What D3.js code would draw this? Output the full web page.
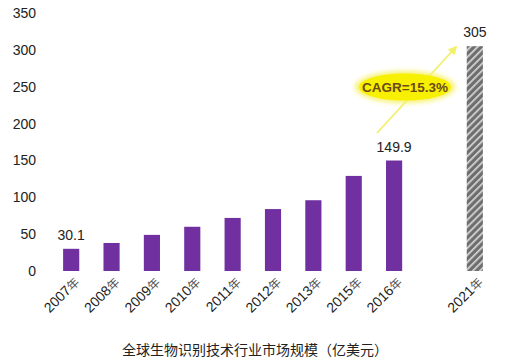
<!DOCTYPE html>
<html>
<head>
<meta charset="utf-8">
<script src="https://cdn.jsdelivr.net/npm/d3@7"></script>
<style>
  body { margin: 0; background: #fff; }
  text { font-family: "Liberation Sans", Arial, sans-serif; }
  .cn { font-family: "Noto Sans CJK SC", sans-serif; }
</style>
</head>
<body>
<div id="chart"></div>
<script>
const categories = ['2007年', '2008年', '2009年', '2010年', '2011年', '2012年', '2013年', '2015年', '2016年', '', '2021年'];
const values = [30.1, 38, 49, 60, 72, 84, 96, 129, 149.9, null, 305];
const forecast = [false, false, false, false, false, false, false, false, false, false, true];
const valueLabels = ['30.1', '', '', '', '', '', '', '', '149.9', '', '305'];
const yTicks = [0, 50, 100, 150, 200, 250, 300, 350];
const title = '全球生物识别技术行业市场规模（亿美元）';
const cagrText = 'CAGR=15.3%';

const width = 531, height = 362;
const svg = d3.select('#chart').append('svg')
    .attr('width', width)
    .attr('height', height);

const defs = svg.append('defs');
const hatch = defs.append('pattern')
    .attr('id', 'hatch')
    .attr('patternUnits', 'userSpaceOnUse')
    .attr('width', 5)
    .attr('height', 5)
    .attr('patternTransform', 'rotate(45)');
hatch.append('rect').attr('width', 5).attr('height', 5).attr('fill', '#6e6e6e');
hatch.append('rect').attr('width', 1.7).attr('height', 5).attr('fill', '#d6d6d6');

const glow = defs.append('filter').attr('id', 'glow')
    .attr('x', '-30%').attr('y', '-60%').attr('width', '160%').attr('height', '220%');
glow.append('feGaussianBlur').attr('stdDeviation', 2.5);

const marker = defs.append('marker')
    .attr('id', 'arrow')
    .attr('viewBox', '0 0 10 10')
    .attr('refX', 8).attr('refY', 5)
    .attr('markerWidth', 5).attr('markerHeight', 5)
    .attr('orient', 'auto');
marker.append('path').attr('d', 'M0,0L10,5L0,10z').attr('fill', '#f2ef6a');

const x = d3.scaleBand()
    .domain(categories.map((d, i) => i))
    .range([51, 495])
    .paddingInner(0.6)
    .paddingOuter(0.3);

const y = d3.scaleLinear()
    .domain([0, 350])
    .range([271, 13]);

// y axis labels, no line
const yAxis = d3.axisLeft(y).tickValues(yTicks).tickSize(0).tickPadding(0);
const yAxisG = svg.append('g')
    .attr('transform', 'translate(36,0)')
    .call(yAxis);
yAxisG.select('.domain').remove();
yAxisG.selectAll('text')
    .attr('font-size', 14)
    .attr('fill', '#222')
    .attr('font-family', '"Liberation Sans", Arial, sans-serif');

// bars
svg.selectAll('.bar')
    .data(values.map((v, i) => ({v, i})).filter(d => d.v !== null))
    .join('rect')
    .attr('class', 'bar')
    .attr('x', d => x(d.i))
    .attr('y', d => y(d.v))
    .attr('width', x.bandwidth())
    .attr('height', d => y(0) - y(d.v))
    .attr('fill', d => forecast[d.i] ? 'url(#hatch)' : '#7030a0');

// value labels
svg.selectAll('.val')
    .data(valueLabels.map((t, i) => ({t, i})).filter(d => d.t))
    .join('text')
    .attr('class', 'val')
    .attr('x', d => x(d.i) + x.bandwidth() / 2)
    .attr('y', d => y(values[d.i]) - 9)
    .attr('text-anchor', 'middle')
    .attr('font-size', 14)
    .attr('fill', '#222')
    .text(d => d.t);

// x labels
svg.selectAll('.xl')
    .data(categories.map((t, i) => ({t, i})).filter(d => d.t))
    .join('text')
    .attr('class', 'xl')
    .attr('transform', d => `translate(${x(d.i) + x.bandwidth() / 2 + 9},${283}) rotate(-45)`)
    .attr('text-anchor', 'end')
    .attr('font-size', 14)
    .attr('fill', '#222')
    .selectAll('tspan')
    .data(d => [d.t.slice(0, 4), d.t.slice(4)])
    .join('tspan')
    .attr('class', (d, i) => i ? 'cn' : null)
    .attr('font-size', (d, i) => i ? 12 : 14)
    .attr('fill', (d, i) => i ? '#555' : '#222')
    .text(d => d);

// CAGR arrow
svg.append('line')
    .attr('x1', 377).attr('y1', 133)
    .attr('x2', 456).attr('y2', 47)
    .attr('stroke', '#f2ef6a')
    .attr('stroke-width', 1.8)
    .attr('marker-end', 'url(#arrow)');

const cx = 405, cy = 87;
svg.append('ellipse')
    .attr('cx', cx).attr('cy', cy)
    .attr('rx', 50).attr('ry', 16)
    .attr('fill', '#f6f26a')
    .attr('filter', 'url(#glow)');
svg.append('ellipse')
    .attr('cx', cx).attr('cy', cy)
    .attr('rx', 46).attr('ry', 13.5)
    .attr('fill', '#f7f000');
svg.append('text')
    .attr('x', cx).attr('y', cy + 5)
    .attr('text-anchor', 'middle')
    .attr('font-size', 13.5)
    .attr('font-weight', 'bold')
    .attr('fill', '#6b4a1a')
    .text(cagrText);

// title
svg.append('text')
    .attr('class', 'cn')
    .attr('x', 255).attr('y', 355)
    .attr('text-anchor', 'middle')
    .attr('font-size', 14)
    .attr('fill', '#222')
    .text(title);
</script>
</body>
</html>
